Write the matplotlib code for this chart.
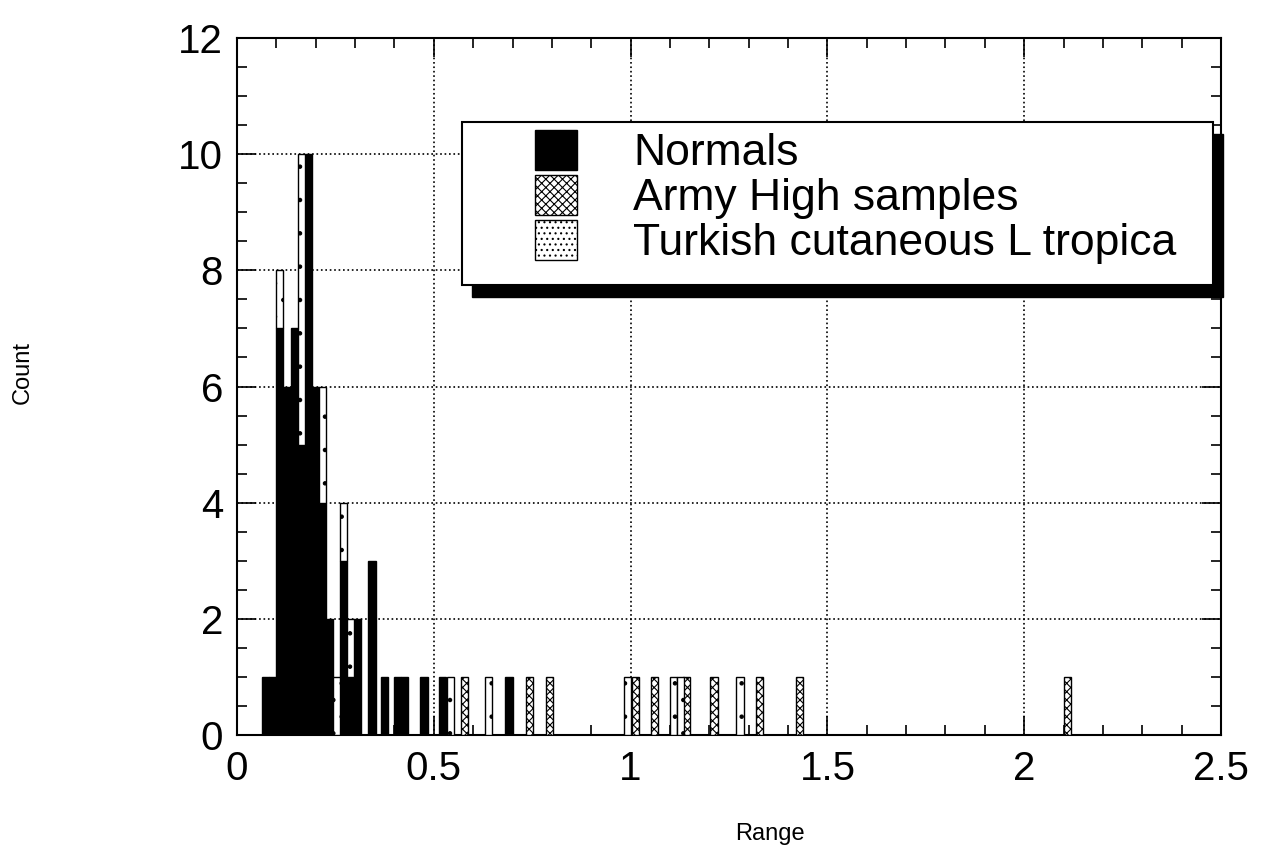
import numpy as np
import matplotlib.pyplot as plt
from matplotlib.patches import Rectangle, Patch
from matplotlib.ticker import MultipleLocator, FuncFormatter

plt.rcParams['font.family'] = ['Liberation Sans', 'DejaVu Sans']
plt.rcParams['hatch.linewidth'] = 0.8

# bar centres on the Range axis
range_centers = [0.072, 0.090, 0.108, 0.127, 0.145, 0.163, 0.181, 0.199, 0.217,
                 0.235, 0.253, 0.271, 0.289, 0.307, 0.343, 0.375, 0.407, 0.426,
                 0.475, 0.523, 0.542, 0.577, 0.640, 0.691, 0.742, 0.793, 0.993,
                 1.012, 1.060, 1.109, 1.126, 1.143, 1.212, 1.278, 1.328, 1.428,
                 2.111]
normals = [1, 1, 7, 6, 7, 5, 10, 6, 4,
           2, 0, 3, 1, 2, 3, 1, 1, 1,
           1, 1, 0, 0, 0, 1, 0, 0, 0,
           0, 0, 0, 0, 0, 0, 0, 0, 0,
           0]
army_high = [0, 0, 0, 0, 0, 0, 0, 0, 0,
             0, 0, 0, 0, 0, 0, 0, 0, 0,
             0, 0, 0, 1, 0, 0, 1, 1, 0,
             1, 1, 0, 0, 1, 1, 0, 1, 1,
             1]
turkish = [0, 0, 1, 0, 0, 5, 0, 0, 2,
           0, 1, 1, 1, 0, 0, 0, 0, 0,
           0, 0, 1, 0, 1, 0, 0, 0, 1,
           0, 0, 1, 1, 0, 0, 1, 0, 0,
           0]
labels = ['Normals', 'Army High samples', 'Turkish cutaneous L tropica']

x = np.array(range_centers)
n = np.array(normals)
a = np.array(army_high)
t = np.array(turkish)
width = 0.018

fig = plt.figure(figsize=(12.62, 8.61), dpi=100)
ax = fig.add_axes([0.1878, 0.1463, 0.7797, 0.8096])

# stacked bars: normals, then army, then turkish on top
m = n > 0
ax.bar(x[m], n[m], width=width, color='black', edgecolor='black', linewidth=1, zorder=3)
m = a > 0
ax.bar(x[m], a[m], width=width, bottom=n[m], facecolor='white', edgecolor='black',
       hatch='xxxx', linewidth=1, zorder=3)
m = t > 0
ax.bar(x[m], t[m], width=width, bottom=(n + a)[m], facecolor='white', edgecolor='black',
       hatch='.', linewidth=1, zorder=3)

ax.set_xlim(0, 2.5)
ax.set_ylim(0, 12)
ax.xaxis.set_major_locator(MultipleLocator(0.5))
ax.xaxis.set_minor_locator(MultipleLocator(0.1))
ax.yaxis.set_major_locator(MultipleLocator(2))
ax.yaxis.set_minor_locator(MultipleLocator(0.5))
ax.xaxis.set_major_formatter(FuncFormatter(lambda v, p: '%g' % v))
ax.tick_params(which='both', direction='in', top=True, right=True, width=1.2)
ax.tick_params(which='major', length=14, labelsize=29)
ax.tick_params(which='minor', length=7)
ax.tick_params(axis='x', which='major', pad=11)
ax.tick_params(axis='y', which='major', pad=10)
ax.grid(True, which='major', linestyle=':', color='black', linewidth=1.2, zorder=1)
ax.set_axisbelow(True)
for s in ax.spines.values():
    s.set_linewidth(1.5)

ax.set_xlabel('Range', fontsize=17)
ax.set_ylabel('Count', fontsize=17)
ax.xaxis.set_label_coords(0.5417, -0.126)
ax.yaxis.set_label_coords(-0.207, 0.52)

# legend box with heavy drop shadow
box_x, box_y, box_w, box_h = 0.2287, 0.6456, 0.7632, 0.2339
ax.add_patch(Rectangle((box_x + 0.0102, box_y - 0.0172), box_w, box_h, transform=ax.transAxes,
                       facecolor='black', edgecolor='black', clip_on=False, zorder=5))
ax.add_patch(Rectangle((box_x, box_y), box_w, box_h, transform=ax.transAxes,
                       facecolor='white', edgecolor='black', linewidth=1.5, clip_on=False, zorder=6))

handles = [Patch(facecolor='black', edgecolor='black'),
           Patch(facecolor='white', edgecolor='black', hatch='xxxx'),
           Patch(facecolor='white', edgecolor='black', hatch='...')]
leg = ax.legend(handles, labels, loc='upper left', bbox_to_anchor=(0.3028, 0.868),
                frameon=False, fontsize=32, handlelength=0.95, handleheight=1.0,
                handletextpad=1.26, labelspacing=0.02, borderpad=0, borderaxespad=0)
leg.set_zorder(7)

plt.savefig('out.png', dpi=100)
